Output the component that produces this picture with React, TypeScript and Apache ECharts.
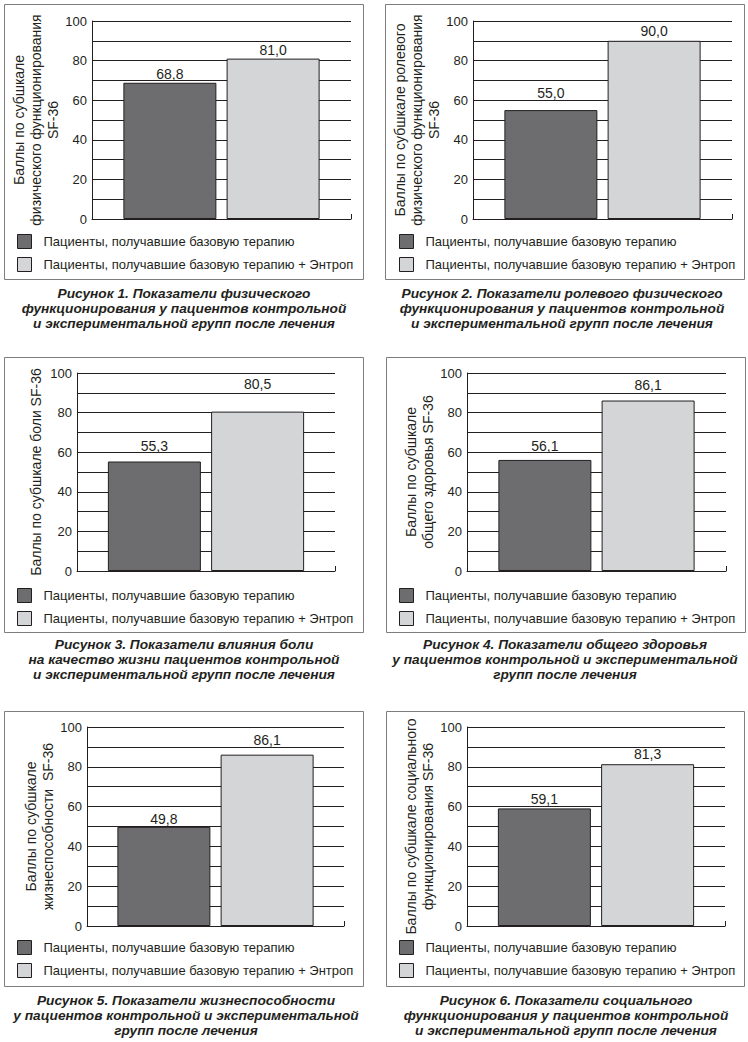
import React, { useEffect, useRef } from "react";
import * as echarts from "echarts";

// ---- Data ----
const seriesNames = [
  "Пациенты, получавшие базовую терапию",
  "Пациенты, получавшие базовую терапию + Энтроп",
];
const baseTherapy = [68.8, 55.0, 55.3, 56.1, 49.8, 59.1];
const baseTherapyEntrop = [81.0, 90.0, 80.5, 86.1, 86.1, 81.3];
const categories = [""];
const yMin = 0;
const yMax = 100;
const yInterval = 20;
const yAxisNames = [
  "Баллы по субшкале\nфизического функционирования\nSF-36",
  "Баллы по субшкале ролевого\nфизического функционирования\nSF-36",
  "Баллы по субшкале боли SF-36",
  "Баллы по субшкале\nобщего здоровья SF-36",
  "Баллы по субшкале\nжизнеспособности  SF-36",
  "Баллы по субшкале социального\nфункционирования SF-36",
];
const captions = [
  "Рисунок 1. Показатели физического\nфункционирования у пациентов контрольной\nи экспериментальной групп после лечения",
  "Рисунок 2. Показатели ролевого физического\nфункционирования у пациентов контрольной\nи экспериментальной групп после лечения",
  "Рисунок 3. Показатели влияния боли\nна качество жизни пациентов контрольной\nи экспериментальной групп после лечения",
  "Рисунок 4. Показатели общего здоровья\nу пациентов контрольной и экспериментальной\nгрупп после лечения",
  "Рисунок 5. Показатели жизнеспособности\nу пациентов контрольной и экспериментальной\nгрупп после лечения",
  "Рисунок 6. Показатели социального\nфункционирования у пациентов контрольной\nи экспериментальной групп после лечения",
];

// ---- Layout (positions / styles only) ----
const layouts = [
  { box: [4, 4, 359, 275], grid: [92, 21, 259, 198], legend: [17, 234], cap: [184, 286], gap: 22, labelDist: [2, 2] },
  { box: [385, 4, 359, 275], grid: [473, 21, 259, 198], legend: [399, 234], cap: [562, 286], gap: 22, labelDist: [10, 3] },
  { box: [4, 357, 359, 275], grid: [77, 373, 258, 198], legend: [17, 588], cap: [184, 637], gap: 33, labelDist: [9, 21] },
  { box: [386, 357, 359, 275], grid: [467, 373, 259, 198], legend: [399, 588], cap: [565, 637], gap: 29, labelDist: [7, 9] },
  { box: [4, 711, 359, 275], grid: [87, 727, 257, 199], legend: [17, 940], cap: [186, 993], gap: 29, labelDist: [1, 8] },
  { box: [386, 711, 358, 275], grid: [467, 727, 258, 199], legend: [399, 940], cap: [566, 993], gap: 29, labelDist: [2, 3] },
];

const FONT = "'Liberation Sans', Arial, sans-serif";
const INK = "#231f20";
const DARK = "#6d6d6f";
const LIGHT = "#d4d5d7";

const fmt = (v: number) => v.toFixed(1).replace(".", ",");

export default function App() {
  const ref = useRef<HTMLDivElement>(null);
  useEffect(() => {
    if (!ref.current) return;
    const chart = echarts.init(ref.current, undefined, { renderer: "svg" });

    const grids: any[] = [];
    const xAxes: any[] = [];
    const yAxes: any[] = [];
    const series: any[] = [];
    const legends: any[] = [];
    const graphics: any[] = [];

    layouts.forEach((L, i) => {
      grids.push({ left: L.grid[0], top: L.grid[1], width: L.grid[2], height: L.grid[3], containLabel: false });
      xAxes.push({
        type: "category",
        gridIndex: i,
        data: categories,
        axisLine: { show: true, lineStyle: { color: INK, width: 1 } },
        axisTick: { show: true, inside: true, length: 5, lineStyle: { color: INK } },
        axisLabel: { show: false },
        splitLine: { show: false },
      });
      yAxes.push({
        type: "value",
        gridIndex: i,
        min: yMin,
        max: yMax,
        interval: yInterval,
        axisLine: { show: true, lineStyle: { color: INK, width: 1 } },
        axisTick: { show: false },
        axisLabel: { fontSize: 13, color: INK, margin: 5, fontFamily: FONT },
        splitLine: { show: true, lineStyle: { color: INK, width: 1 } },
        minorTick: { show: false, splitNumber: 2 },
        minorSplitLine: { show: true, lineStyle: { color: INK, width: 1 } },
        name: yAxisNames[i],
        nameLocation: "middle",
        nameRotate: 90,
        nameGap: L.gap,
        nameTextStyle: { fontSize: 14, lineHeight: 17, color: INK, fontFamily: FONT },
      });
      const values = [baseTherapy[i], baseTherapyEntrop[i]];
      const colors = [DARK, LIGHT];
      values.forEach((v, k) => {
        series.push({
          type: "bar",
          name: seriesNames[k],
          xAxisIndex: i,
          yAxisIndex: i,
          data: [v],
          barWidth: 93,
          barGap: "11%",
          itemStyle: { color: colors[k], borderColor: INK, borderWidth: 1 },
          label: {
            show: true,
            position: "top",
            distance: L.labelDist[k],
            formatter: (p: any) => fmt(p.value),
            fontSize: 14,
            color: INK,
            fontFamily: FONT,
          },
        });
      });
      legends.push({
        data: seriesNames,
        orient: "vertical",
        left: L.legend[0],
        top: L.legend[1],
        padding: 0,
        itemWidth: 14,
        itemHeight: 14,
        itemGap: 8,
        icon: "rect",
        selectedMode: false,
        itemStyle: { borderColor: INK, borderWidth: 1 },
        textStyle: { fontSize: 13, color: INK, fontFamily: FONT, lineHeight: 14, padding: [0, 0, 0, 7] },
      });
      graphics.push({
        type: "rect",
        shape: { x: L.box[0] + 0.5, y: L.box[1] + 0.5, width: L.box[2], height: L.box[3] },
        style: { fill: "none", stroke: "#7d7d7d", lineWidth: 1 },
        z: -1,
      });
      graphics.push({
        type: "text",
        x: L.cap[0],
        y: L.cap[1],
        style: {
          text: captions[i],
          align: "center",
          verticalAlign: "top",
          fontSize: 13.7,
          fontWeight: "bold",
          fontStyle: "italic",
          fontFamily: FONT,
          lineHeight: 15,
          fill: INK,
        },
      });
    });

    chart.setOption({
      animation: false,
      backgroundColor: "#ffffff",
      textStyle: { fontFamily: FONT },
      grid: grids,
      xAxis: xAxes,
      yAxis: yAxes,
      series,
      legend: legends,
      graphic: graphics,
    });
    return () => chart.dispose();
  }, []);

  return (
    <div
      ref={ref}
      style={{ position: "fixed", left: 0, top: 0, width: 748, height: 1042, background: "#fff" }}
    />
  );
}
